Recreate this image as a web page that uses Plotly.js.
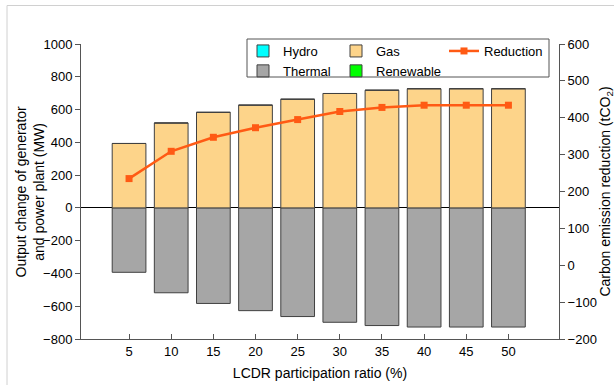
<!DOCTYPE html>
<html><head><meta charset="utf-8">
<script src="https://cdn.plot.ly/plotly-3.0.1.min.js"></script>
<style>html,body{margin:0;padding:0;background:#fff;}#chart{width:615px;height:385px;}</style>
</head><body><div id="chart"></div>
<script>
const ratios = [5, 10, 15, 20, 25, 30, 35, 40, 45, 50];
const hydro = [0, 0, 0, 0, 0, 0, 0, 0, 0, 0];
const gas = [393, 518, 583, 627, 663, 698, 718, 727, 727, 727];
const thermal = [-393, -518, -583, -627, -663, -698, -718, -727, -727, -727];
const renewable = [0, 0, 0, 0, 0, 0, 0, 0, 0, 0];
const reduction = [235, 309, 347, 373, 395, 417, 428, 434, 434, 434];
const leftTicks = [-800, -600, -400, -200, 0, 200, 400, 600, 800, 1000];
const rightTicks = [-200, -100, 0, 100, 200, 300, 400, 500, 600];

const FAM = 'Arial, "Liberation Sans", sans-serif';
const font = {family: FAM, size: 13, color: '#000'};
const barLine = {color: '#404040', width: 1};

const data = [
  {type: 'bar', name: 'Hydro', x: ratios, y: hydro, width: 4, marker: {color: '#00FFFF', line: barLine}, legend: 'legend'},
  {type: 'bar', name: 'Thermal', x: ratios, y: thermal, width: 4, marker: {color: '#A6A6A6', line: barLine}, legend: 'legend'},
  {type: 'bar', name: 'Gas', x: ratios, y: gas, width: 4, marker: {color: '#FDD48A', line: barLine}, legend: 'legend2'},
  {type: 'bar', name: 'Renewable', x: ratios, y: renewable, width: 4, marker: {color: '#00FF00', line: barLine}, legend: 'legend2'},
  {type: 'scatter', mode: 'lines+markers', name: 'Reduction', x: ratios, y: reduction, yaxis: 'y2',
   line: {color: '#FF5A14', width: 2.5}, marker: {symbol: 'square', size: 7, color: '#FF5A14'}, legend: 'legend3'}
];

const PW = 478, PH = 295, L = 81, T = 44;
const px = v => (v - L) / PW;
const py = v => 1 - (v - T) / PH;

const legBase = {orientation: 'v', bgcolor: 'rgba(0,0,0,0)', borderwidth: 0, font: {family: FAM, size: 13, color: '#000'},
  tracegroupgap: 0, itemwidth: 30, xanchor: 'left', yanchor: 'top'};

const layout = {
  width: 615, height: 385,
  margin: {l: L, r: 615 - L - PW, t: T, b: 385 - T - PH},
  paper_bgcolor: '#fff', plot_bgcolor: '#fff',
  font: font,
  barmode: 'relative',
  showlegend: true,
  xaxis: {
    range: [-0.7, 56], tickvals: ratios, ticktext: ratios.map(String),
    ticks: 'inside', ticklen: 5, tickcolor: '#555', showline: true, linecolor: '#555', linewidth: 1,
    showgrid: false, zeroline: false, mirror: false,
    title: {text: 'LCDR participation ratio (%)', font: {family: FAM, size: 14}, standoff: 10},
    tickfont: {family: FAM, size: 13}
  },
  yaxis: {
    range: [-800, 1000], tickvals: leftTicks, ticks: 'outside', ticklen: 5, tickcolor: '#555',
    showline: true, linecolor: '#555', linewidth: 1, showgrid: false,
    zeroline: true, zerolinecolor: '#000', zerolinewidth: 1,
    tickfont: {family: FAM, size: 13}
  },
  yaxis2: {
    range: [-200, 600], tickvals: rightTicks, overlaying: 'y', side: 'right',
    ticks: 'outside', ticklen: 5, tickcolor: '#555', showline: true, linecolor: '#555', linewidth: 1,
    showgrid: false, zeroline: false,
    title: {text: 'Carbon emission reduction (tCO<sub>2</sub>)', font: {family: FAM, size: 14}, standoff: 8},
    tickfont: {family: FAM, size: 13}
  },
  annotations: [
    {text: 'Output change of generator<br>and power plant (MW)', xref: 'paper', yref: 'paper',
     x: px(29), y: 0.5, xanchor: 'center', yanchor: 'middle', textangle: -90, showarrow: false,
     font: {family: FAM, size: 14, color: '#000'}}
  ],
  legend: Object.assign({}, legBase, {x: px(243), y: py(36)}),
  legend2: Object.assign({}, legBase, {x: px(336), y: py(36)}),
  legend3: Object.assign({}, legBase, {x: px(444), y: py(36)}),
  shapes: [
    {type: 'rect', xref: 'paper', yref: 'paper', x0: px(247), x1: px(549), y0: py(77), y1: py(39),
     line: {color: '#555', width: 1}, fillcolor: 'rgba(0,0,0,0)'},
    {type: 'line', xref: 'paper', yref: 'paper', x0: px(7), x1: px(614), y0: py(5.5), y1: py(5.5),
     line: {color: '#d0d0d0', width: 1}},
    {type: 'line', xref: 'paper', yref: 'paper', x0: px(7), x1: px(7), y0: py(5.5), y1: py(385),
     line: {color: '#d0d0d0', width: 1}}
  ]
};

Plotly.newPlot('chart', data, layout, {displayModeBar: false, staticPlot: true});
</script></body></html>
